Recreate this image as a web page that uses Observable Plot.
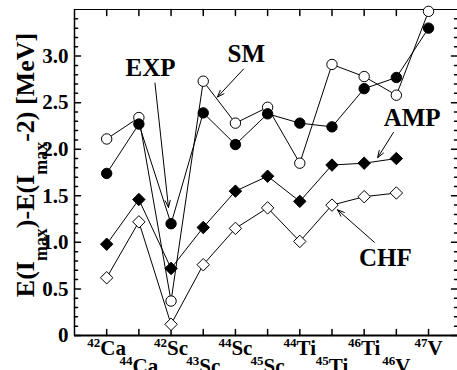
<!DOCTYPE html>
<html><head><meta charset="utf-8">
<script src="https://cdn.jsdelivr.net/npm/d3@7"></script>
<script src="https://cdn.jsdelivr.net/npm/@observablehq/plot@0.6"></script>
<style>body{margin:0;background:#fff}</style>
</head><body>
<script>
// ---- data ----
const categories = ["42Ca","44Ca","42Sc","43Sc","44Sc","45Sc","44Ti","45Ti","46Ti","46V","47V"];
const massNumbers = ["42","44","42","43","44","45","44","45","46","46","47"];
const elements = ["Ca","Ca","Sc","Sc","Sc","Sc","Ti","Ti","Ti","V","V"];
const smValues  = [2.11, 2.34, 0.37, 2.73, 2.28, 2.45, 1.85, 2.91, 2.78, 2.58, 3.48];
const expValues = [1.74, 2.27, 1.20, 2.39, 2.05, 2.38, 2.28, 2.24, 2.65, 2.77, 3.30];
const ampValues = [0.98, 1.46, 0.72, 1.16, 1.55, 1.71, 1.44, 1.83, 1.85, 1.90];
const chfValues = [0.62, 1.22, 0.12, 0.76, 1.15, 1.37, 1.01, 1.40, 1.49, 1.53];
const yTickValues = [0, 0.5, 1.0, 1.5, 2.0, 2.5, 3.0];
const yTickLabels = ["0", "0.5", "1.0", "1.5", "2.0", "2.5", "3.0"];
const yMinorValues = d3.range(0, 36).map(i => i / 10).filter((v, i) => i % 5 !== 0);
const yLabel = "E(I_{max})-E(I_{max}-2) [MeV]";
const annotationLabels = ["EXP", "SM", "AMP", "CHF"];
const annotationX = [2.36, 5.34, 10.49, 9.66];
const annotationY = [2.79, 2.94, 2.245, 0.75];
const arrowX1 = [2.50, 5.25, 9.91, 9.32];
const arrowY1 = [2.71, 2.86, 2.18, 1.00];
const arrowX2 = [2.92, 4.44, 9.42, 8.17];
const arrowY2 = [1.375, 2.56, 1.91, 1.35];

// ---- derived tables ----
const pos = categories.map((c, i) => i + 1);
const rows = vals => vals.map((v, i) => ({x: pos[i], y: v}));
const catRows = categories.map((c, i) => ({x: pos[i], label: `^{${massNumbers[i]}}${elements[i]}`, row: i % 2}));
const annotations = annotationLabels.map((t, i) => ({label: t, x: annotationX[i], y: annotationY[i]}));
const arrows = arrowX1.map((v, i) => ({x1: v, y1: arrowY1[i], x2: arrowX2[i], y2: arrowY2[i]}));

const tickShape = {draw(ctx, l) { ctx.moveTo(0, 0); ctx.lineTo(0, -l); }};
const XMAX = 11.9, YMAX = 3.5;

const chart = Plot.plot({
  width: 457, height: 370,
  marginLeft: 74, marginRight: 0, marginTop: 9, marginBottom: 35,
  x: {domain: [0, XMAX], axis: null},
  y: {domain: [0, YMAX], axis: null},
  style: {fontFamily: "'Liberation Serif', 'Times New Roman', serif", color: "black", background: "white"},
  marks: [
    // frame
    Plot.ruleY([YMAX], {stroke: "black", strokeWidth: 1}),
    Plot.ruleX([XMAX], {stroke: "black", strokeWidth: 1}),
    Plot.ruleX([0], {stroke: "black", strokeWidth: 1.5}),
    Plot.ruleY([0], {stroke: "black", strokeWidth: 2}),
    // inward ticks
    Plot.vector(yTickValues, {x: 0, y: d => d, rotate: 90, length: 6, anchor: "start", shape: tickShape, stroke: "black"}),
    Plot.vector(yMinorValues, {x: 0, y: d => d, rotate: 90, length: 3, anchor: "start", shape: tickShape, stroke: "black"}),
    Plot.vector(yTickValues, {x: XMAX, y: d => d, rotate: -90, length: 6, anchor: "start", shape: tickShape, stroke: "black"}),
    Plot.vector(yMinorValues, {x: XMAX, y: d => d, rotate: -90, length: 3, anchor: "start", shape: tickShape, stroke: "black"}),
    Plot.vector(pos, {x: d => d, y: 0, rotate: 0, length: 6, anchor: "start", shape: tickShape, stroke: "black"}),
    Plot.vector(pos, {x: d => d, y: YMAX, rotate: 180, length: 6, anchor: "start", shape: tickShape, stroke: "black"}),
    // series lines
    Plot.line(rows(smValues), {x: "x", y: "y", stroke: "black", strokeWidth: 1}),
    Plot.line(rows(expValues), {x: "x", y: "y", stroke: "black", strokeWidth: 1}),
    Plot.line(rows(ampValues), {x: "x", y: "y", stroke: "black", strokeWidth: 1}),
    Plot.line(rows(chfValues), {x: "x", y: "y", stroke: "black", strokeWidth: 1}),
    // annotations arrows
    Plot.arrow(arrows, {x1: "x1", y1: "y1", x2: "x2", y2: "y2", stroke: "black", strokeWidth: 1, headLength: 11, headAngle: 40, bend: 0}),
    // markers
    Plot.dot(rows(smValues), {x: "x", y: "y", r: 5.2, fill: "white", stroke: "black", strokeWidth: 1}),
    Plot.dot(rows(expValues), {x: "x", y: "y", r: 5.2, fill: "black", stroke: "black", strokeWidth: 1}),
    Plot.dot(rows(ampValues), {x: "x", y: "y", r: 5.6, symbol: "diamond2", fill: "black", stroke: "black", strokeWidth: 1}),
    Plot.dot(rows(chfValues), {x: "x", y: "y", r: 5.6, symbol: "diamond2", fill: "white", stroke: "black", strokeWidth: 1}),
    // annotation labels
    Plot.text(annotations, {x: "x", y: "y", text: "label", lineAnchor: "bottom", fontSize: 25, fontWeight: "bold", fill: "black"}),
    // y tick labels
    Plot.text(yTickValues, {x: 0, y: d => d, text: (d, i) => yTickLabels[i], textAnchor: "end", dx: -6, fontSize: 21, fontWeight: "bold", fill: "black"}),
    // x category labels (two staggered rows)
    Plot.text(catRows.filter(d => d.row === 0), {x: "x", frameAnchor: "bottom", text: "label", lineAnchor: "bottom", dy: 19, fontSize: 21, fontWeight: "bold", fill: "black"}),
    Plot.text(catRows.filter(d => d.row === 1), {x: "x", frameAnchor: "bottom", text: "label", lineAnchor: "bottom", dy: 37, fontSize: 21, fontWeight: "bold", fill: "black"}),
    // y axis label
    Plot.text([yLabel], {frameAnchor: "left", text: d => d, rotate: -90, textAnchor: "middle", lineAnchor: "bottom", dx: -41, dy: -7.5, fontSize: 26, fontWeight: "bold", fill: "black"})
  ]
});
document.body.appendChild(chart);

// turn ^{..} and _{..} markup into real superscript/subscript tspans
function richify(el) {
  const s = el.textContent;
  if (!/[_^]\{/.test(s)) return;
  const fs = parseFloat(getComputedStyle(el).fontSize) || 16;
  el.textContent = "";
  const re = /([_^])\{([^}]*)\}|([^_^]+)/g;
  let m, shift = 0;
  const ns = "http://www.w3.org/2000/svg";
  while ((m = re.exec(s))) {
    const t = document.createElementNS(ns, "tspan");
    let target;
    if (m[1] === "^") { target = -0.36 * fs; t.setAttribute("font-size", (0.62 * fs) + "px"); t.textContent = m[2]; }
    else if (m[1] === "_") { target = 0.52 * fs; t.setAttribute("font-size", (0.69 * fs) + "px"); t.textContent = m[2]; }
    else { target = 0; t.textContent = m[3]; }
    if (target !== shift) t.setAttribute("dy", (target - shift) + "px");
    shift = target;
    el.appendChild(t);
  }
}
chart.querySelectorAll("text").forEach(richify);
</script>
</body></html>
